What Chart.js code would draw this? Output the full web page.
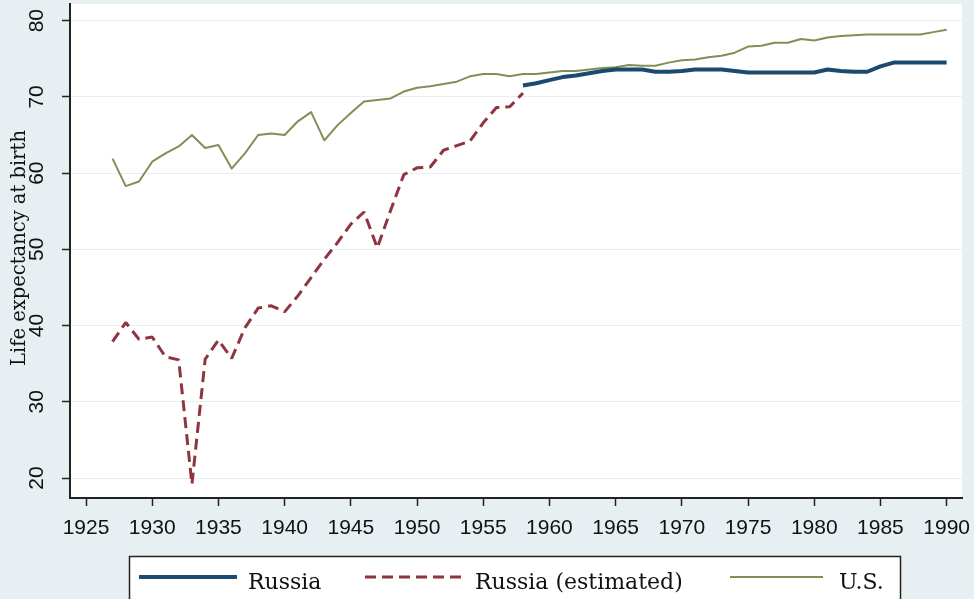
<!DOCTYPE html>
<html>
<head>
<meta charset="utf-8">
<script src="https://cdn.jsdelivr.net/npm/chart.js@4"></script>
<style>
html, body { margin: 0; padding: 0; background: #e8eff2; }
</style>
</head>
<body>
<canvas id="myChart" width="974" height="599"></canvas>
<script>
// years and values
const yearsEst = [1927,1928,1929,1930,1931,1932,1933,1934,1935,1936,1937,1938,1939,1940,1941,1942,
  1943,1944,1945,1946,1947,1948,1949,1950,1951,1952,1953,1954,1955,1956,1957,1958];
const russiaEst = [37.9,40.4,38.2,38.5,35.9,35.5,19.2,35.6,38.1,35.7,39.7,42.3,42.6,41.8,43.9,46.3,
  48.7,50.9,53.3,54.9,50.2,55.1,59.8,60.7,60.8,63.0,63.6,64.2,66.6,68.6,68.7,70.5];

const yearsRussia = [1958,1959,1960,1961,1962,1963,1964,1965,1966,1967,1968,1969,1970,1971,1972,1973,
  1974,1975,1976,1977,1978,1979,1980,1981,1982,1983,1984,1985,1986,1987,1988,1989,1990];
const russia = [71.5,71.8,72.2,72.6,72.8,73.1,73.4,73.6,73.6,73.6,73.3,73.3,73.4,73.6,73.6,73.6,
  73.4,73.2,73.2,73.2,73.2,73.2,73.2,73.6,73.4,73.3,73.3,74.0,74.5,74.5,74.5,74.5,74.5];

const yearsUS = [1927,1928,1929,1930,1931,1932,1933,1934,1935,1936,1937,1938,1939,1940,1941,1942,
  1943,1944,1945,1946,1947,1948,1949,1950,1951,1952,1953,1954,1955,1956,1957,1958,1959,1960,1961,
  1962,1963,1964,1965,1966,1967,1968,1969,1970,1971,1972,1973,1974,1975,1976,1977,1978,1979,1980,
  1981,1982,1983,1984,1985,1986,1987,1988,1989,1990];
const us = [61.9,58.3,58.9,61.5,62.6,63.5,65.0,63.3,63.7,60.6,62.6,65.0,65.2,65.0,66.8,68.0,
  64.3,66.3,67.9,69.4,69.6,69.8,70.7,71.2,71.4,71.7,72.0,72.7,73.0,73.0,72.7,73.0,73.0,73.2,73.4,
  73.4,73.6,73.8,73.9,74.2,74.1,74.1,74.5,74.8,74.9,75.2,75.4,75.8,76.6,76.7,77.1,77.1,77.6,77.4,
  77.8,78.0,78.1,78.2,78.2,78.2,78.2,78.2,78.5,78.8];

const xTicks = [1925,1930,1935,1940,1945,1950,1955,1960,1965,1970,1975,1980,1985,1990];
const yTicks = [20,30,40,50,60,70,80];

const labels = ['Russia', 'Russia (estimated)', 'U.S.'];
const colores = ['#1b4a6e', '#8f3540', '#818e58'];

function puntos(xs, ys) {
  return xs.map((x, i) => ({x: x, y: ys[i]}));
}

const tickFont = {family: 'Liberation Sans', size: 21};

// fondo gris y area blanca
const fondo = {
  id: 'fondo',
  beforeDraw(chart) {
    const {ctx, chartArea: a} = chart;
    ctx.save();
    ctx.fillStyle = '#e8eff2';
    ctx.fillRect(0, 0, chart.width, chart.height);
    ctx.fillStyle = '#ffffff';
    ctx.fillRect(a.left, a.top, a.right - a.left, a.bottom - a.top);
    ctx.restore();
  },
  afterDraw(chart) {
    const ctx = chart.ctx;
    ctx.save();
    // titulo del eje y, encima de las etiquetas como en el original
    ctx.translate(20, 248);
    ctx.rotate(-Math.PI / 2);
    ctx.fillStyle = '#111';
    ctx.font = '19.5px "DejaVu Serif"';
    ctx.textAlign = 'center';
    ctx.textBaseline = 'middle';
    ctx.fillText('Life expectancy at birth', 0, 0);
    ctx.restore();

    // leyenda con recuadro
    ctx.save();
    ctx.fillStyle = '#ffffff';
    ctx.fillRect(129.5, 556.5, 771, 60);
    ctx.strokeStyle = '#222';
    ctx.lineWidth = 1.5;
    ctx.strokeRect(129.5, 556.5, 771, 60);
    const items = [
      {x0: 139, x1: 237, tx: 248},
      {x0: 365, x1: 463, tx: 475},
      {x0: 730, x1: 823, tx: 839}
    ];
    chart.data.datasets.forEach((ds, i) => {
      const it = items[i];
      ctx.beginPath();
      ctx.strokeStyle = ds.borderColor;
      ctx.lineWidth = ds.borderWidth;
      ctx.setLineDash(ds.borderDash || []);
      ctx.moveTo(it.x0, 577);
      ctx.lineTo(it.x1, 577);
      ctx.stroke();
      ctx.setLineDash([]);
      ctx.fillStyle = '#111';
      ctx.font = '22px "DejaVu Serif"';
      ctx.textAlign = 'left';
      ctx.textBaseline = 'alphabetic';
      ctx.fillText(ds.label, it.tx, 589);
    });
    ctx.restore();
  }
};

let myChart = new Chart(document.getElementById('myChart').getContext('2d'), {
  type: 'line',
  data: {
    datasets: [{
      label: labels[0],
      data: puntos(yearsRussia, russia),
      borderColor: colores[0],
      borderWidth: 4,
      borderJoinStyle: 'round',
      pointRadius: 0,
      tension: 0
    }, {
      label: labels[1],
      data: puntos(yearsEst, russiaEst),
      borderColor: colores[1],
      borderWidth: 3,
      borderDash: [11, 6],
      borderJoinStyle: 'bevel',
      pointRadius: 0,
      tension: 0
    }, {
      label: labels[2],
      data: puntos(yearsUS, us),
      borderColor: colores[2],
      borderWidth: 2,
      borderJoinStyle: 'round',
      pointRadius: 0,
      tension: 0
    }]
  },
  options: {
    responsive: false,
    animation: false,
    layout: {padding: {top: 4, right: 12, left: 0, bottom: 0}},
    plugins: {
      legend: {display: false},
      tooltip: {enabled: false}
    },
    scales: {
      x: {
        type: 'linear',
        min: 1923.79,
        max: 1991.16,
        afterBuildTicks: (s) => { s.ticks = xTicks.map(v => ({value: v})); },
        afterFit: (s) => { s.height = 101; s.paddingLeft = 0; s.paddingRight = 0; },
        grid: {drawOnChartArea: false, drawTicks: true, tickLength: 8, tickColor: '#222', tickWidth: 1.5},
        border: {color: '#222', width: 2},
        ticks: {font: tickFont, color: '#111', padding: 10, maxRotation: 0, autoSkip: false,
          callback: (v) => String(v)}
      },
      y: {
        min: 17.38,
        max: 82.19,
        afterBuildTicks: (s) => { s.ticks = yTicks.map(v => ({value: v})); },
        afterFit: (s) => { s.width = 70; s.paddingTop = 0; s.paddingBottom = 0; },
        grid: {color: '#e9eef1', lineWidth: 1, drawTicks: true, tickLength: 8, tickColor: '#222', tickWidth: 1.5},
        border: {color: '#222', width: 2},
        ticks: {font: tickFont, color: '#111', padding: 13, minRotation: 90, maxRotation: 90,
          crossAlign: 'center', autoSkip: false}
      }
    }
  },
  plugins: [fondo]
});
</script>
</body>
</html>
